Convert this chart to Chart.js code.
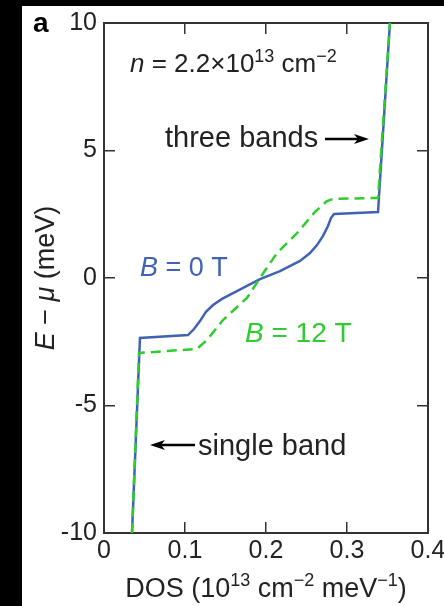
<!DOCTYPE html>
<html lang="en">
<head>
  <meta charset="UTF-8">
  <title>DOS vs E - mu</title>
  <script src="https://cdn.jsdelivr.net/npm/chart.js"></script>
  <style>
    html, body { margin: 0; padding: 0; background: #000; }
    #wrap { width: 444px; height: 606px; }
  </style>
</head>
<body>
  <div id="wrap"><canvas id="dosChart" width="444" height="606"></canvas></div>

  <script>
    // B = 0 T (solid blue)
    const dosB0 = [0.0346, 0.0444, 0.1037, 0.1111, 0.1185, 0.1259, 0.1346, 0.1457, 0.1617, 0.1765, 0.1926,
                   0.2173, 0.242, 0.2543, 0.263, 0.2704, 0.2765, 0.2802, 0.284, 0.3383, 0.353];
    const energyB0 = [-10, -2.35, -2.24, -2.0, -1.69, -1.33, -1.06, -0.82, -0.55, -0.31, -0.04,
                      0.27, 0.67, 0.98, 1.29, 1.65, 2.04, 2.35, 2.51, 2.59, 10];

    // B = 12 T (dashed green)
    const dosB12 = [0.0346, 0.0432, 0.1148, 0.1272, 0.1469, 0.1765, 0.1951, 0.2136, 0.2383, 0.2605,
                    0.2753, 0.2827, 0.3383, 0.353];
    const energyB12 = [-10, -2.94, -2.78, -2.43, -1.65, -0.78, 0.12, 0.98, 1.76, 2.59,
                       3.02, 3.1, 3.14, 10];

    const xTickValues = [0, 0.1, 0.2, 0.3, 0.4];
    const xTickLabels = ['0', '0.1', '0.2', '0.3', '0.4'];
    const yTickValues = [-10, -5, 0, 5, 10];
    const yTickLabels = ['-10', '-5', '0', '5', '10'];

    const BLUE = '#4162b4';
    const GREEN = '#2fcc2f';
    const INK = '#222';
    const FAMILY = '"Liberation Sans", Arial, sans-serif';

    const toPoints = (xs, ys) => xs.map((x, i) => ({ x: x, y: ys[i] }));

    // text pieces: i = italic, sup = superscript, b = bold
    const panelLetter = [{ t: 'a', b: true }];
    const densityNote = [{ t: 'n', i: true }, { t: ' = 2.2×10' }, { t: '13', sup: true }, { t: ' cm' }, { t: '−2', sup: true }];
    const labelB0 = [{ t: 'B', i: true }, { t: ' = 0 T' }];
    const labelB12 = [{ t: 'B', i: true }, { t: ' = 12 T' }];
    const yTitle = [{ t: 'E', i: true }, { t: ' − ' }, { t: 'μ', i: true }, { t: ' (meV)' }];
    const xTitle = [{ t: 'DOS (10' }, { t: '13', sup: true }, { t: ' cm' }, { t: '−2', sup: true }, { t: ' meV' }, { t: '−1', sup: true }, { t: ')' }];

    function drawRich(ctx, runs, x, y, size, color, align) {
      const fontFor = r => (r.i ? 'italic ' : '') + (r.b ? 'bold ' : '') +
        (r.sup ? Math.round(size * 0.68) : size) + 'px ' + FAMILY;
      let w = 0;
      runs.forEach(r => { ctx.font = fontFor(r); w += ctx.measureText(r.t).width; });
      let cx = align === 'center' ? x - w / 2 : x;
      ctx.fillStyle = color;
      ctx.textAlign = 'left';
      ctx.textBaseline = 'alphabetic';
      runs.forEach(r => {
        ctx.font = fontFor(r);
        ctx.fillText(r.t, cx, r.sup ? y - size * 0.4 : y);
        cx += ctx.measureText(r.t).width;
      });
    }

    function arrow(ctx, x1, x2, y) {
      const dir = Math.sign(x2 - x1);
      ctx.save();
      ctx.strokeStyle = '#000';
      ctx.fillStyle = '#000';
      ctx.lineWidth = 2.5;
      ctx.beginPath();
      ctx.moveTo(x1, y);
      ctx.lineTo(x2 - dir * 10, y);
      ctx.stroke();
      ctx.beginPath();
      ctx.moveTo(x2, y);
      ctx.lineTo(x2 - dir * 15, y - 5);
      ctx.lineTo(x2 - dir * 11, y);
      ctx.lineTo(x2 - dir * 15, y + 5);
      ctx.closePath();
      ctx.fill();
      ctx.restore();
    }

    const paperPlugin = {
      id: 'paper',
      beforeDraw(chart) {
        const ctx = chart.ctx;
        ctx.save();
        ctx.fillStyle = '#fff';
        ctx.fillRect(0, 0, chart.width, chart.height);
        ctx.fillStyle = '#000';
        ctx.fillRect(0, 0, 22, chart.height);
        ctx.fillRect(0, 0, chart.width, 6);
        ctx.restore();
      },
      afterDraw(chart) {
        const ctx = chart.ctx;
        const area = chart.chartArea;
        ctx.save();
        drawRich(ctx, panelLetter, 33, 32, 28, '#000', 'left');
        drawRich(ctx, densityNote, 130, 72, 26, INK, 'left');
        drawRich(ctx, [{ t: 'three bands' }], 165, 147, 29, INK, 'left');
        arrow(ctx, 325, 369, 139);
        drawRich(ctx, labelB0, 140, 276, 27, BLUE, 'left');
        drawRich(ctx, labelB12, 245, 342, 28, GREEN, 'left');
        drawRich(ctx, [{ t: 'single band' }], 198, 455, 29, INK, 'left');
        arrow(ctx, 195, 150, 445);
        drawRich(ctx, xTitle, (area.left + area.right) / 2, 597, 27, INK, 'center');
        ctx.translate(54, (area.top + area.bottom) / 2);
        ctx.rotate(-Math.PI / 2);
        drawRich(ctx, yTitle, 0, 0, 27, INK, 'center');
        ctx.restore();
      }
    };

    const tickFont = { family: FAMILY, size: 25 };
    const frame = { display: true, color: '#333', width: 2 };
    const inwardTicks = { drawOnChartArea: false, drawTicks: true, tickLength: -11, tickColor: '#333', lineWidth: 1.5 };

    function fixTicks(values) {
      return scale => { scale.ticks = values.map(v => ({ value: v })); };
    }

    new Chart(document.getElementById('dosChart'), {
      type: 'scatter',
      data: {
        datasets: [
          {
            label: 'B = 12 T',
            data: toPoints(dosB12, energyB12),
            showLine: true,
            borderColor: GREEN,
            borderWidth: 2.5,
            borderDash: [10, 6],
            pointRadius: 0,
            order: 0
          },
          {
            label: 'B = 0 T',
            data: toPoints(dosB0, energyB0),
            showLine: true,
            borderColor: BLUE,
            borderWidth: 2.5,
            pointRadius: 0,
            order: 1
          }
        ]
      },
      options: {
        responsive: false,
        animation: false,
        devicePixelRatio: 1,
        layout: { padding: { top: 23, right: 16, left: 0, bottom: 0 } },
        plugins: { legend: { display: false }, tooltip: { enabled: false } },
        scales: {
          x: {
            type: 'linear', position: 'bottom', min: 0, max: 0.4,
            afterBuildTicks: fixTicks(xTickValues),
            afterFit: s => { s.height = 73; s.paddingLeft = 0; s.paddingRight = 0; },
            ticks: {
              font: tickFont, color: INK, padding: 14, maxRotation: 0,
              callback: v => xTickLabels[xTickValues.findIndex(t => Math.abs(t - v) < 1e-9)]
            },
            grid: inwardTicks, border: frame
          },
          x2: {
            type: 'linear', position: 'top', min: 0, max: 0.4,
            afterBuildTicks: fixTicks(xTickValues),
            afterFit: s => { s.height = 0; s.paddingLeft = 0; s.paddingRight = 0; },
            ticks: { display: false },
            grid: inwardTicks, border: frame
          },
          y: {
            type: 'linear', position: 'left', min: -10, max: 10,
            afterBuildTicks: fixTicks(yTickValues),
            afterFit: s => { s.width = 104; s.paddingTop = 0; s.paddingBottom = 0; },
            ticks: {
              font: tickFont, color: INK, padding: 18,
              callback: v => yTickLabels[yTickValues.indexOf(v)]
            },
            grid: inwardTicks, border: frame
          },
          y2: {
            type: 'linear', position: 'right', min: -10, max: 10,
            afterBuildTicks: fixTicks(yTickValues),
            afterFit: s => { s.width = 0; s.paddingTop = 0; s.paddingBottom = 0; },
            ticks: { display: false },
            grid: inwardTicks, border: frame
          }
        }
      },
      plugins: [paperPlugin]
    });
  </script>
</body>
</html>
